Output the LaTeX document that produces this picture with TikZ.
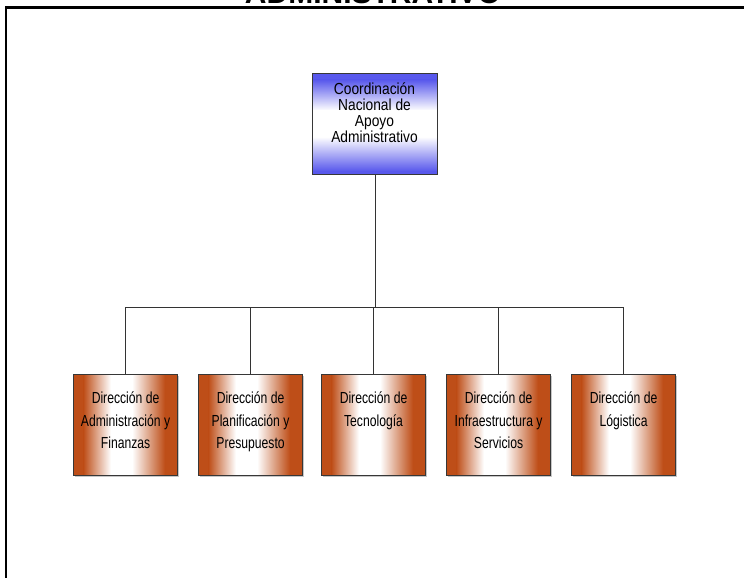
\documentclass[tikz,border=0pt]{standalone}
\usepackage{fontspec}
\setmainfont{Liberation Sans}
\newfontfamily\narrowA[FakeStretch=0.86]{Liberation Sans}
\newfontfamily\narrowB[FakeStretch=0.76]{Liberation Sans}
\definecolor{blu}{RGB}{88,88,236}
\definecolor{brn}{RGB}{190,78,24}
\definecolor{edge}{RGB}{55,55,55}
\tikzset{
  topbox/.style={draw=edge, line width=1.1pt, minimum width=125pt, minimum height=101pt, inner sep=0pt},
  subbox/.style={draw=edge, line width=1.1pt, minimum width=104pt, minimum height=101pt, inner sep=0pt},
  toptext/.style={font=\narrowA\fontsize{16}{16}\selectfont, align=center, inner sep=0pt, anchor=base, text=black},
  subtext/.style={font=\narrowB\fontsize{16}{22.5}\selectfont, align=center, inner sep=0pt, anchor=base, text=black},
  conn/.style={draw=black!80, line width=0.9pt},
  frame/.style={draw=black, line width=2.2pt}
}
\begin{document}
\begin{tikzpicture}[x=1pt,y=-1pt]
\useasboundingbox (0,0) rectangle (744,578);
\fill[white] (0,0) rectangle (744,578);
% title (partly cut off, as in the reference)
\node[font=\bfseries\fontsize{30}{30}\selectfont, anchor=base, inner sep=0pt] (title) at (373,3.5) {ADMINISTRATIVO};
% frame
\draw[frame] (6,578) -- (6,7.5) -- (744,7.5);
% top box gradient (blue - white - blue, vertical)
\fill[blu] (312,73) rectangle (437,80);
\shade[top color=blu, bottom color=white] (312,79.7) rectangle (437,110.5);
\fill[white] (312,110.2) rectangle (437,137);
\shade[top color=white, bottom color=blu] (312,136.7) rectangle (437,171.3);
\fill[blu] (312,171) rectangle (437,174);
\node[topbox, anchor=north west] (top) at (312,73) {};
\node[toptext] (toptxt) at (374.5,142.5) {Coordinación\\Nacional de\\Apoyo\\Administrativo};
% sub boxes: shadow and gradient (brown - white - brown, horizontal)
\foreach \x in {73,198,321,446,571}{
  \fill[black!22] (\x+1.8,375.8) rectangle (\x+105.8,476.8);
  \fill[brn] (\x,374) rectangle (\x+10.8,475);
  \shade[left color=brn, right color=white] (\x+10.5,374) rectangle (\x+37.8,475);
  \fill[white] (\x+37.5,374) rectangle (\x+59.3,475);
  \shade[left color=white, right color=brn] (\x+59,374) rectangle (\x+91.8,475);
  \fill[brn] (\x+91.5,374) rectangle (\x+104,475);
}
\node[subbox, anchor=north west] (b1) at (73,374) {};
\node[subbox, anchor=north west] (b2) at (198,374) {};
\node[subbox, anchor=north west] (b3) at (321,374) {};
\node[subbox, anchor=north west] (b4) at (446,374) {};
\node[subbox, anchor=north west] (b5) at (571,374) {};
\node[subtext] (t1) at ([yshift=-74.5]b1.north) {Dirección de\\Administración y\\Finanzas};
\node[subtext] (t2) at ([yshift=-74.5]b2.north) {Dirección de\\Planificación y\\Presupuesto};
\node[subtext] (t3) at ([yshift=-52]b3.north) {Dirección de\\Tecnología};
\node[subtext] (t4) at ([yshift=-74.5]b4.north) {Dirección de\\Infraestructura y\\Servicios};
\node[subtext] (t5) at ([yshift=-52]b5.north) {Dirección de\\Lógistica};
% connectors
\coordinate (bus) at (374.5,307);
\draw[conn] (top.south) -- (top.south |- bus);
\draw[conn] (b1.north |- bus) -- (b5.north |- bus);
\foreach \b in {b1,b2,b3,b4,b5}{
  \draw[conn] (\b.north |- bus) -- (\b.north);
}
\end{tikzpicture}
\end{document}
